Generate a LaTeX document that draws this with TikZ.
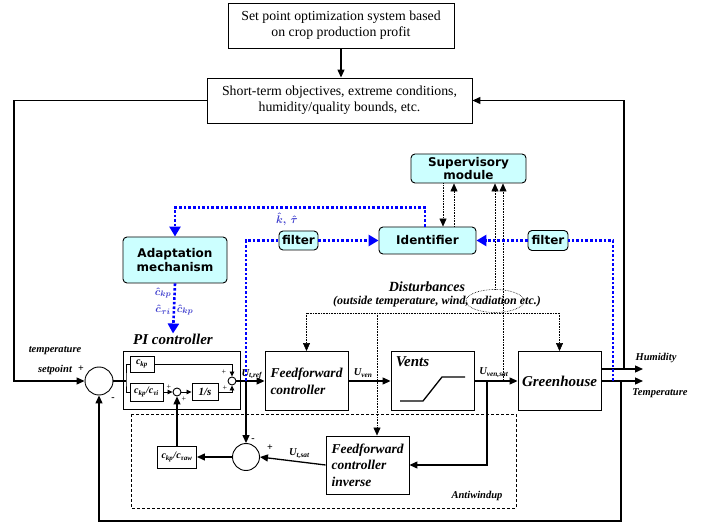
\documentclass[tikz,border=0pt]{standalone}
\usepackage{fontspec}
\setmainfont{Liberation Serif}
\newfontfamily\boxfont{DejaVu Sans}
\usetikzlibrary{positioning,calc,shapes,arrows.meta}
\definecolor{boxcyan}{RGB}{204,255,255}
\definecolor{lblblue}{RGB}{60,60,205}
\newcommand{\csub}[1]{c\textsubscript{#1}}
\newcommand{\usub}[1]{U\textsubscript{#1}}
\tikzstyle{tbox}=[draw, line width=0.9pt, align=center, font=\fontsize{13.8}{16}\selectfont]
\tikzstyle{cbox}=[draw, line width=0.9pt, rounded corners=4pt, fill=boxcyan, align=center, inner sep=1pt, font=\boxfont\bfseries\fontsize{12}{13.5}\selectfont]
\tikzstyle{blk}=[draw, line width=0.9pt, minimum width=83pt, minimum height=59pt, align=left, font=\bfseries\itshape\fontsize{13.5}{17}\selectfont]
\tikzstyle{sbox}=[draw, line width=0.9pt, inner sep=1pt, font=\bfseries\itshape\fontsize{10}{11}\selectfont]
\tikzstyle{sumc}=[draw, circle, line width=0.9pt, inner sep=0pt]
\tikzstyle{lbl}=[inner sep=1pt, font=\bfseries\itshape\fontsize{10.5}{11}\selectfont]
\tikzstyle{pm}=[inner sep=0pt, font=\fontsize{8}{9}\selectfont]
\tikzstyle{wire}=[line width=1.3pt]
\tikzstyle{sig}=[line width=1.3pt, -{Triangle[length=8pt,width=7pt]}]
\tikzstyle{stip}=[line width=0.8pt, -{Triangle[length=5pt,width=4.5pt]}]
\tikzstyle{dist}=[line width=0.6pt, densely dotted]
\tikzstyle{dtip}=[-{Triangle[length=8pt,width=7pt]}]
\tikzstyle{adapt}=[blue, line width=2.6pt, dash pattern=on 2.6pt off 2pt]
\tikzstyle{btip}=[-{Triangle[length=10pt,width=11pt]}]
\tikzstyle{hatlbl}=[inner sep=0pt, text=lblblue, font=\boldmath\fontsize{11}{12}\selectfont]

\begin{document}
\begin{tikzpicture}[x=1pt, y=-1pt]
\useasboundingbox (0,0) rectangle (712,526);
% planning levels
\node[tbox, minimum width=226pt, minimum height=45pt] (sp) at (341,25.5) {Set point optimization system based\\on crop production profit};
\node[tbox, minimum width=265pt, minimum height=45pt] (st) at (339.5,100.5) {Short-term objectives, extreme conditions,\\humidity/quality bounds, etc.};
\draw[sig] (sp.south) -- (sp.south |- st.north);

% adaptive part
\node[cbox, minimum width=115pt, minimum height=29pt] (sup) at (468.5,168.5) {Supervisory\\module};
\node[cbox, minimum width=97pt, minimum height=27pt] (ident) at (427.5,240.5) {Identifier};
\node[cbox, minimum width=39pt, minimum height=19pt] (filt1) at (298.5,240.5) {filter};
\node[cbox, minimum width=40pt, minimum height=20pt] (filt2) at (548,240.5) {filter};
\node[cbox, minimum width=104pt, minimum height=46pt] (adapt) at (175,260) {Adaptation\\mechanism};

% PI controller
\node[inner sep=0pt, font=\bfseries\itshape\fontsize{15}{16}\selectfont] (pilab) at (173,339) {PI controller};
\node[draw, line width=0.9pt, minimum width=117pt, minimum height=58pt] (pi) at (181.5,380) {};
\node[sbox, minimum width=24pt, minimum height=16pt] (ckp) at (142,364) {\csub{kp}};
\node[sbox, minimum width=33pt, minimum height=18pt] (cti) at (146.5,392) {\csub{kp}/\csub{τi}};
\node[sumc, minimum size=8pt] (s1) at (177,392) {};
\node[sbox, minimum width=26pt, minimum height=17pt, font=\bfseries\itshape\fontsize{11}{12}\selectfont] (integ) at (205,392) {1/s};
\node[sumc, minimum size=8pt] (s2) at (232,381) {};
\node[sumc, minimum size=28pt] (sum) at (99,381) {};

% process
\node[blk] (ffc) at (306.5,381) {Feedforward\\controller};
\node[blk, label={[anchor=north west, inner sep=5pt, font=\bfseries\itshape\fontsize{15}{16}\selectfont]north west:Vents}] (vents) at (432.5,381) {};
\node[blk, align=center, font=\bfseries\itshape\fontsize{15}{16}\selectfont] (gh) at (559.5,381) {Greenhouse};
\draw[wire] (400,401) -- (423,401) -- (442,377) -- (465,377);

% antiwindup
\draw[line width=0.6pt, dash pattern=on 3pt off 2pt] (131,414) rectangle (516,508);
\node[lbl] (awlab) at (477,496) {Antiwindup};
\node[blk, minimum height=58pt, font=\bfseries\itshape\fontsize{13.5}{16.5}\selectfont] (ffi) at (367.5,465) {Feedforward\\controller\\inverse};
\node[sumc, minimum size=27pt] (aw) at (246,457) {};
\node[sbox, minimum width=39pt, minimum height=22pt] (caw) at (177,457) {\csub{kp}/\csub{τaw}};

% disturbances
\node[inner sep=0pt, font=\bfseries\itshape\fontsize{14}{15}\selectfont] (dist) at (427,287) {Disturbances};
\node[lbl, font=\bfseries\itshape\fontsize{12}{12}\selectfont] (distsub) at (437,302) {(outside temperature, wind, radiation etc.)};
\node[draw, ellipse, dist, minimum width=58pt, minimum height=23pt] (rad) at (495,301) {};
\coordinate (dl) at (306.5,313);
\coordinate (dm) at (377,313);
\coordinate (dr) at (559.5,313);
\draw[dist] (dl) -- (dr);
\draw[dist, dtip] (dl) -- (ffc.north);
\draw[dist, dtip] (dr) -- (gh.north);
\draw[dist, dtip] (dm) -- (dm |- ffi.north);

% supervisory links
\coordinate (vs) at (503,381);
\draw[dist, dtip] ([xshift=-25.5pt]sup.south) -- ([xshift=15.5pt]ident.north);
\draw[dist, dtip] ([xshift=26.5pt]ident.north) -- ([xshift=-14.5pt]sup.south);
\draw[dist, dtip] (rad.north) -- (rad.north |- sup.south);
\draw[dist, dtip] (vs) -- (vs |- sup.south);

% main loop
\coordinate (fbl) at (14,381);
\coordinate (hm) at (624,369);
\coordinate (tp) at (621,381);
\coordinate (hum) at (643,369);
\coordinate (tmp) at (643,381);
\draw[sig] (st.west) -| (fbl) -- (sum.west);
\draw[sig] (hm) |- (st.east);
\draw[sig] (tp) -- ++(0,140) -| (sum.south);
\draw[sig] (gh.east |- hm) -- (hum);
\draw[sig] (gh.east) -- (tmp);
\node[lbl] (humlab) at (656,358) {Humidity};
\node[lbl] (tmplab) at (660,393) {Temperature};
\node[lbl] (splab1) at (55,351) {temperature};
\node[lbl] (splab2) at (55,370) {setpoint};
\node[pm, font=\bfseries\fontsize{10}{10}\selectfont] (p0) at (81,369) {+};
\node[pm, font=\bfseries\fontsize{10}{10}\selectfont] (m0) at (113,399) {-};

% inside PI
\coordinate (br) at (126,381);
\draw[wire] (sum.east) -- (br);
\draw[line width=0.8pt] (ckp.west) -| (br) |- (cti.west);
\draw[stip] (ckp.east) -| (s2.north);
\draw[stip] (cti.east) -- (s1.west);
\draw[stip] (s1.east) -- (integ.west);
\draw[stip] (integ.east) -| (s2.south);
\node[pm] (p1) at (169,387) {+};
\node[pm] (p2) at (184,399) {+};
\node[pm] (p3) at (224,372) {+};
\node[pm] (p4) at (225,388) {+};

% signals
\coordinate (ur) at (246,381);
\coordinate (vb) at (487,381);
\draw[sig] (s2.east) -- (ffc.west) node[lbl, pos=0.55, above] {\usub{t,ref}};
\draw[sig] (ur) -- (aw.north);
\draw[sig] (ffc.east) -- (vents.west) node[lbl, pos=0.35, above=2pt] {\usub{ven}};
\draw[sig] (vents.east) -- (gh.west) node[lbl, pos=0.45, above=2pt] {\usub{ven,sat}};
\draw[sig] (vb) |- (ffi.east);
\draw[sig] (ffi.west) -- (aw.east) node[lbl, pos=0.4, above=2pt] {\usub{t,sat}};
\draw[sig] (aw.west) -- (caw.east);
\draw[sig] (caw.north) -- (s1.south);
\node[pm, font=\bfseries\fontsize{10}{10}\selectfont] (m1) at (253,440) {-};
\node[pm, font=\bfseries\fontsize{10}{10}\selectfont] (p5) at (270,448) {+};

% adaptation signals
\coordinate (tb) at (613,381);
\draw[adapt] (ur) |- (filt1.west);
\draw[adapt, btip] (filt1.east) -- (ident.west);
\draw[adapt] (tb) |- (filt2.east);
\draw[adapt, btip] (filt2.west) -- (ident.east);
\draw[adapt, btip] ([xshift=-2.5pt]ident.north) -- ++(0,-19) -| (adapt.north);
\draw[adapt, btip] (adapt.south) -- (pilab.north);
\node[hatlbl] (khat) at (287,219) {$\hat{k},\,\hat{\tau}$};
\node[hatlbl] (c1) at (163,293) {$\hat{c}_{kp}$};
\node[hatlbl] (c2) at (163,310) {$\hat{c}_{\tau i}$};
\node[hatlbl] (c3) at (185,310) {$\hat{c}_{kp}$};
\end{tikzpicture}
\end{document}
